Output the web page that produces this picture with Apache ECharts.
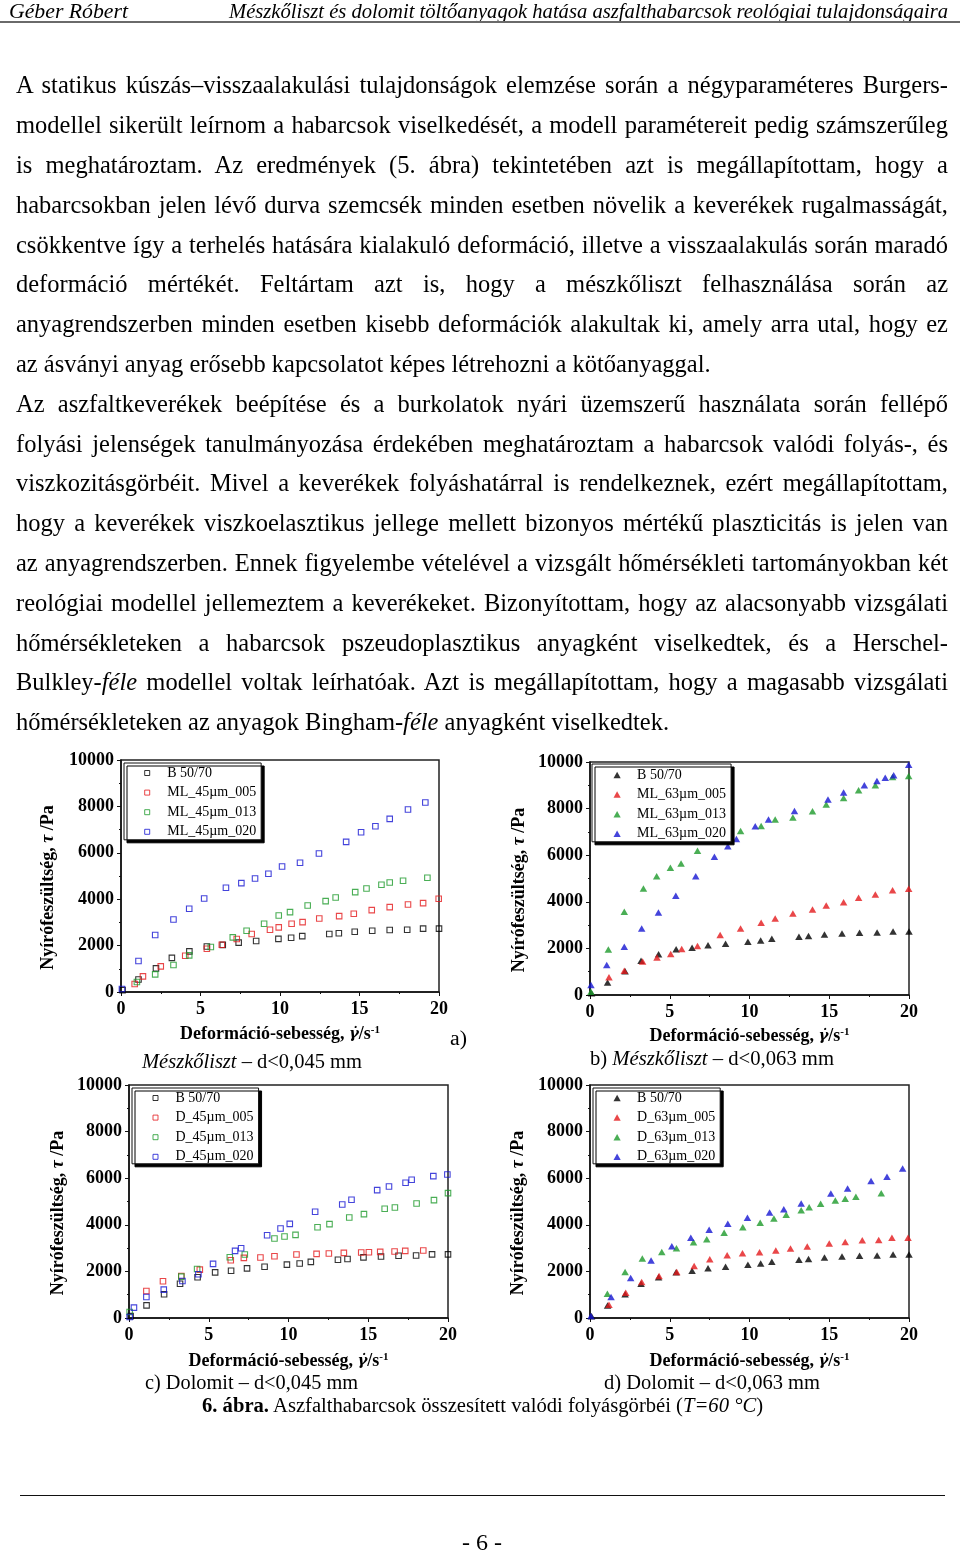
<!DOCTYPE html>
<html>
<head>
<meta charset="utf-8">
<script src="https://cdn.jsdelivr.net/npm/echarts@6/dist/echarts.min.js"></script>
<style>
html,body{margin:0;padding:0;background:#fff;}
#page{position:relative;width:960px;height:1553px;overflow:hidden;font-family:"Liberation Serif","Times New Roman",serif;color:#000;background:#fff;}
#chart{position:absolute;left:0;top:0;width:960px;height:1553px;}
.t{position:absolute;white-space:nowrap;transform-origin:0 50%;}
.j{position:absolute;left:16px;width:932px;font-size:24.5px;line-height:40px;text-align:justify;text-align-last:justify;}
.j.l{text-align:left;text-align-last:left;}
.rule{position:absolute;}
</style>
</head>
<body>
<div id="page">
  <div id="chart"></div>
</div>
<script>
// ---------------- DATA ----------------
// common binder reference (B 50/70)
const bX = [0.1, 1.1, 2.2, 3.2, 4.3, 5.4, 6.4, 7.4, 8.5, 9.9, 10.7, 11.4, 13.1, 13.7, 14.7, 15.8, 16.9, 18.0, 19.0, 20.0];
const bY = [80, 540, 1020, 1470, 1750, 1960, 2030, 2130, 2200, 2290, 2340, 2410, 2500, 2530, 2600, 2640, 2670, 2680, 2730, 2730];

// a) Mészkőliszt d<0,045 mm
const ml45_005X = [0.86, 1.38, 2.5, 4.04, 5.4, 6.34, 7.28, 8.22, 9.37, 9.92, 10.73, 11.42, 12.47, 13.72, 14.64, 15.77, 16.9, 18.05, 19.0, 19.98];
const ml45_005Y = [344, 674, 1105, 1564, 1866, 2038, 2282, 2497, 2683, 2784, 2942, 3013, 3171, 3272, 3372, 3530, 3659, 3774, 3831, 4018];
const ml45_013X = [1.0, 2.15, 3.3, 4.29, 5.65, 7.03, 7.9, 9.0, 9.92, 10.63, 11.74, 12.87, 13.5, 14.73, 15.44, 16.38, 16.9, 17.74, 19.27];
const ml45_013Y = [430, 760, 1162, 1580, 1937, 2353, 2640, 2942, 3300, 3444, 3731, 3917, 4075, 4305, 4463, 4620, 4721, 4793, 4922];
const ml45_020X = [0.06, 1.1, 2.15, 3.3, 4.29, 5.23, 6.6, 7.57, 8.43, 9.27, 10.13, 11.26, 12.45, 14.16, 15.1, 16.0, 16.9, 18.05, 19.14];
const ml45_020Y = [130, 1335, 2454, 3128, 3588, 4032, 4492, 4692, 4893, 5094, 5410, 5568, 5970, 6472, 6888, 7146, 7462, 7864, 8165];

// b) Mészkőliszt d<0,063 mm
const ml63_005X = [1.19, 2.15, 3.3, 4.2, 5.06, 5.75, 6.74, 8.16, 9.44, 10.73, 11.61, 12.72, 13.95, 14.81, 15.9, 16.84, 17.89, 18.97, 19.98];
const ml63_005Y = [757, 1043, 1443, 1614, 1757, 1971, 2100, 2571, 2857, 3100, 3286, 3500, 3671, 3843, 3986, 4171, 4314, 4500, 4557];
const ml63_013X = [0.06, 1.15, 2.15, 3.35, 4.18, 5.04, 5.71, 6.74, 9.44, 10.73, 11.61, 12.72, 13.95, 14.81, 15.9, 16.84, 17.89, 18.97, 19.98];
const ml63_013Y = [143, 1957, 3571, 4571, 5100, 5457, 5643, 6186, 7043, 7257, 7529, 7614, 7886, 8171, 8457, 8786, 9000, 9357, 9400];
const ml63_020X = [0.06, 1.05, 2.15, 3.24, 4.29, 5.38, 6.63, 7.8, 8.64, 9.18, 10.36, 11.19, 12.82, 14.92, 15.9, 17.2, 17.99, 18.51, 19.04, 19.98];
const ml63_020Y = [430, 1286, 2071, 2857, 3543, 4257, 5100, 5929, 6386, 6700, 7243, 7529, 7900, 8386, 8686, 9000, 9186, 9329, 9429, 9886];

// c) Dolomit d<0,045 mm
const d45_005X = [1.09, 2.13, 3.28, 4.44, 6.38, 7.2, 8.24, 9.12, 10.5, 11.76, 12.53, 13.47, 14.56, 15.04, 15.75, 16.65, 17.32, 18.45];
const d45_005Y = [1160, 1576, 1805, 2078, 2479, 2579, 2594, 2651, 2723, 2751, 2766, 2794, 2808, 2823, 2837, 2852, 2880, 2894];
const d45_013X = [0.04, 3.28, 4.27, 6.32, 7.26, 9.12, 9.75, 10.44, 11.82, 12.57, 13.81, 14.73, 16.03, 16.67, 18.03, 19.12, 20.0];
const d45_013Y = [258, 1777, 2106, 2608, 2723, 3410, 3496, 3568, 3898, 4027, 4313, 4457, 4686, 4743, 4915, 5058, 5359];
const d45_020X = [0.04, 0.31, 1.09, 2.18, 3.35, 4.35, 5.27, 6.65, 7.03, 8.66, 9.5, 10.08, 11.67, 13.37, 13.95, 15.56, 16.3, 17.34, 17.72, 19.08, 19.96];
const d45_020Y = [43, 444, 903, 1218, 1590, 1877, 2321, 2880, 2995, 3554, 3840, 4041, 4557, 4872, 5073, 5488, 5646, 5804, 5932, 6090, 6162];

// d) Dolomit d<0,063 mm
const d63_005X = [1.19, 2.24, 3.24, 4.33, 5.44, 6.53, 7.51, 8.6, 9.56, 10.63, 11.65, 12.57, 13.62, 15.0, 16.0, 17.07, 18.1, 18.93, 19.94];
const d63_005Y = [573, 1089, 1548, 1806, 1978, 2235, 2522, 2694, 2780, 2823, 2895, 2981, 3067, 3196, 3267, 3339, 3353, 3439, 3439];
const d63_013X = [1.09, 2.2, 3.28, 4.5, 5.42, 6.49, 7.32, 8.41, 9.58, 10.67, 11.53, 12.3, 13.24, 13.74, 14.46, 15.38, 16.0, 16.67, 18.26];
const d63_013Y = [1046, 1978, 2551, 2837, 2995, 3253, 3382, 3654, 3898, 4084, 4270, 4428, 4629, 4758, 4901, 5044, 5116, 5202, 5359];
const d63_020X = [0.06, 1.32, 2.55, 3.83, 5.13, 6.32, 7.47, 8.64, 9.87, 11.26, 12.15, 13.24, 15.1, 16.15, 17.62, 18.62, 19.6];
const d63_020Y = [86, 903, 1720, 2465, 3081, 3439, 3783, 4041, 4299, 4528, 4672, 4915, 5345, 5560, 5875, 6061, 6420];

// series names per panel
const namesA = ['B 50/70', 'ML_45µm_005', 'ML_45µm_013', 'ML_45µm_020'];
const namesB = ['B 50/70', 'ML_63µm_005', 'ML_63µm_013', 'ML_63µm_020'];
const namesC = ['B 50/70', 'D_45µm_005', 'D_45µm_013', 'D_45µm_020'];
const namesD = ['B 50/70', 'D_63µm_005', 'D_63µm_013', 'D_63µm_020'];

// axis ranges / ticks
const xAxisRange = { min: 0, max: 20, interval: 5 };
const yAxisRange = { min: 0, max: 10000, interval: 2000 };

// ---------------- TEXT ----------------
const bodyLines = [
  'A statikus kúszás–visszaalakulási tulajdonságok elemzése során a négyparaméteres Burgers-',
  'modellel sikerült leírnom a habarcsok viselkedését, a modell paramétereit pedig számszerűleg',
  'is meghatároztam. Az eredmények (5. ábra) tekintetében azt is megállapítottam, hogy a',
  'habarcsokban jelen lévő durva szemcsék minden esetben növelik a keverékek rugalmasságát,',
  'csökkentve így a terhelés hatására kialakuló deformáció, illetve a visszaalakulás során maradó',
  'deformáció mértékét. Feltártam azt is, hogy a mészkőliszt felhasználása során az',
  'anyagrendszerben minden esetben kisebb deformációk alakultak ki, amely arra utal, hogy ez',
  '|az ásványi anyag erősebb kapcsolatot képes létrehozni a kötőanyaggal.',
  'Az aszfaltkeverékek beépítése és a burkolatok nyári üzemszerű használata során fellépő',
  'folyási jelenségek tanulmányozása érdekében meghatároztam a habarcsok valódi folyás-, és',
  'viszkozitásgörbéit. Mivel a keverékek folyáshatárral is rendelkeznek, ezért megállapítottam,',
  'hogy a keverékek viszkoelasztikus jellege mellett bizonyos mértékű plaszticitás is jelen van',
  'az anyagrendszerben. Ennek figyelembe vételével a vizsgált hőmérsékleti tartományokban két',
  'reológiai modellel jellemeztem a keverékeket. Bizonyítottam, hogy az alacsonyabb vizsgálati',
  'hőmérsékleteken a habarcsok pszeudoplasztikus anyagként viselkedtek, és a Herschel-',
  'Bulkley-<i>féle</i> modellel voltak leírhatóak. Azt is megállapítottam, hogy a magasabb vizsgálati',
  '|hőmérsékleteken az anyagok Bingham-<i>féle</i> anyagként viselkedtek.'
];

const page = document.getElementById('page');

function rule(left, top, w, h, color) {
  const r = document.createElement('div');
  r.className = 'rule';
  r.style.cssText = 'left:' + left + 'px;top:' + top + 'px;width:' + w + 'px;height:' + h + 'px;background:' + color + ';';
  page.appendChild(r);
}
function place(html, left, right, cy, fs) {
  const d = document.createElement('div');
  d.className = 't';
  d.style.fontSize = fs + 'px';
  d.style.lineHeight = (fs * 1.2) + 'px';
  d.style.left = left + 'px';
  d.style.top = (cy - fs * 0.6) + 'px';
  d.innerHTML = html;
  page.appendChild(d);
  const w = d.getBoundingClientRect().width;
  if (right !== null && w > 0) d.style.transform = 'scaleX(' + ((right - left) / w) + ')';
  return d;
}

place('<i>Géber Róbert</i>', 9, 128, 11, 20);
place('<i>Mészkőliszt és dolomit töltőanyagok hatása aszfalthabarcsok reológiai tulajdonságaira</i>', 229, 948, 11, 20);
rule(0, 21, 960, 2, '#6a6a6a');

bodyLines.forEach(function (line, i) {
  const d = document.createElement('div');
  let txt = line;
  d.className = 'j';
  if (txt.charAt(0) === '|') { d.className = 'j l'; txt = txt.slice(1); }
  d.innerHTML = txt;
  d.style.top = (85 + i * 39.81 - 19.7) + 'px';
  page.appendChild(d);
  let fs = 24.5;
  while (d.offsetHeight > 45 && fs > 18) { fs -= 0.1; d.style.fontSize = fs + 'px'; }
});

place('a)', 450, 467, 1038, 20);
place('<i>Mészkőliszt</i> – d&lt;0,045 mm', 142, 362, 1061, 20.5);
place('b) <i>Mészkőliszt</i> – d&lt;0,063 mm', 590, 834, 1058, 20.5);
place('c) Dolomit – d&lt;0,045 mm', 145, 358, 1382, 20.5);
place('d) Dolomit – d&lt;0,063 mm', 604, 820, 1382, 20.5);
place('<b>6. ábra.</b> Aszfalthabarcsok összesített valódi folyásgörbéi (<i>T=60 °C</i>)', 202, 763, 1405, 20.5);
rule(20, 1495, 925, 1, '#111');
place('- 6 -', 462, 502, 1542, 24);

// ---------------- CHART ----------------
const colors = ['#000000', '#e3191c', '#1d9a2a', '#1515d2'];
const FONT = 'Liberation Serif';
const ICON_SQUARE = 'path://M0,0L10,0L10,10L0,10Z';
const ICON_TRIANGLE = 'path://M0,9L5,0L10,9Z';

const panels = [
  { grid: { left: 121, top: 760, width: 318, height: 232 }, hollow: true, names: namesA, suffix: '',
    xs: [bX, ml45_005X, ml45_013X, ml45_020X], ys: [bY, ml45_005Y, ml45_013Y, ml45_020Y],
    legend: { left: 124, top: 763, padding: [3, 5, 1, 20.2] }, yGap: 62.5, xGap: 32.5 },
  { grid: { left: 590, top: 762, width: 319, height: 233 }, hollow: false, names: namesB, suffix: '\u200b',
    xs: [bX, ml63_005X, ml63_013X, ml63_020X], ys: [bY, ml63_005Y, ml63_013Y, ml63_020Y],
    legend: { left: 592, top: 764, padding: [4, 5, 1, 21.5] }, yGap: 60.5, xGap: 31.5 },
  { grid: { left: 129, top: 1085, width: 319, height: 233 }, hollow: true, names: namesC, suffix: '\u200b\u200b',
    xs: [bX, d45_005X, d45_013X, d45_020X], ys: [bY, d45_005Y, d45_013Y, d45_020Y],
    legend: { left: 132, top: 1088, padding: [3, 5, 0, 20.5] }, yGap: 60.5, xGap: 33.5 },
  { grid: { left: 590, top: 1085, width: 319, height: 233 }, hollow: false, names: namesD, suffix: '\u200b\u200b\u200b',
    xs: [bX, d63_005X, d63_013X, d63_020X], ys: [bY, d63_005Y, d63_013Y, d63_020Y],
    legend: { left: 593, top: 1088, padding: [3, 5, 0, 20.5] }, yGap: 61.5, xGap: 33.5 }
];

const nameRich = {
  n: { fontFamily: FONT, fontWeight: 'bold', fontSize: 18, lineHeight: 20, color: '#000' },
  g: { fontFamily: 'DejaVu Serif', fontWeight: 'bold', fontStyle: 'italic', fontSize: 15, lineHeight: 20, color: '#000' },
  t: { fontFamily: FONT, fontWeight: 'bold', fontStyle: 'italic', fontSize: 18, lineHeight: 20, color: '#000' },
  s: { fontFamily: FONT, fontWeight: 'bold', fontSize: 11, lineHeight: 11, verticalAlign: 'top', color: '#000' }
};

const grids = [], xAxes = [], yAxes = [], series = [], legends = [];
panels.forEach(function (p, gi) {
  grids.push(Object.assign({ show: true, borderColor: '#222', borderWidth: 1.5, backgroundColor: '#fff', containLabel: false }, p.grid));
  const common = {
    gridIndex: gi, type: 'value',
    axisLine: { show: true, onZero: false, lineStyle: { color: '#111', width: 1.5 } },
    axisTick: { show: true, inside: false, length: 4, lineStyle: { color: '#111', width: 1 } },
    minorTick: { show: true, splitNumber: 2, length: 2, lineStyle: { color: '#111', width: 1 } },
    splitLine: { show: false }, minorSplitLine: { show: false },
    nameLocation: 'middle', nameMoveOverlap: false
  };
  xAxes.push(Object.assign({}, common, xAxisRange, {
    position: 'bottom',
    axisLabel: { show: true, margin: 8, fontFamily: FONT, fontWeight: 'bold', fontSize: 18, color: '#000', showMinLabel: true, showMaxLabel: true,
      formatter: function (v) { return String(v); } },
    name: '{n|Deformáció-sebesség, }{g|γ̇}{n|/s}{s|-1}',
    nameGap: p.xGap,
    nameTextStyle: { rich: nameRich }
  }));
  yAxes.push(Object.assign({}, common, yAxisRange, {
    position: 'left',
    axisLabel: { show: true, margin: 7, fontFamily: FONT, fontWeight: 'bold', fontSize: 18, color: '#000', showMinLabel: true, showMaxLabel: true,
      formatter: function (v) { return String(v); } },
    name: '{n|Nyírófeszültség, }{t|τ}{n| /Pa}',
    nameRotate: 90,
    nameGap: p.yGap,
    nameTextStyle: { padding: [0, 23, 0, 0], rich: nameRich }
  }));
  const legendData = [];
  p.names.forEach(function (nm, si) {
    const fullName = nm + p.suffix;
    legendData.push(fullName);
    const c = colors[si];
    series.push({
      type: 'scatter', name: fullName, xAxisIndex: gi, yAxisIndex: gi,
      symbol: p.hollow ? 'rect' : 'triangle',
      symbolSize: p.hollow ? 5.5 : [7.5, 6.5],
      itemStyle: p.hollow ? { color: 'rgba(255,255,255,0)', borderColor: c, borderWidth: 1.1 } : { color: c, borderWidth: 0 },
      emphasis: { disabled: true },
      silent: true,
      z: 2 + si,
      data: p.xs[si].map(function (x, k) { return [x, p.ys[si][k]]; })
    });
  });
  legends.push({
    data: legendData, orient: 'vertical', left: p.legend.left, top: p.legend.top, padding: p.legend.padding,
    itemGap: 5.6, itemWidth: 30, itemHeight: p.hollow ? 5 : 6.5,
    icon: p.hollow ? ICON_SQUARE : ICON_TRIANGLE,
    symbolKeepAspect: true,
    backgroundColor: '#fff', borderColor: '#111', borderWidth: 1, borderRadius: 0,
    shadowColor: '#000', shadowBlur: 0, shadowOffsetX: 3, shadowOffsetY: 3,
    selectedMode: false,
    itemStyle: p.hollow ? { borderWidth: 1 } : { borderWidth: 0 },
    textStyle: { fontFamily: FONT, fontSize: 14, lineHeight: 14, color: '#000' },
    formatter: function (name) { return name.replace(/\u200b/g, ''); },
    z: 10
  });
});

const chart = echarts.init(document.getElementById('chart'), null, { renderer: 'canvas' });
chart.setOption({
  animation: false,
  backgroundColor: 'transparent',
  grid: grids, xAxis: xAxes, yAxis: yAxes, legend: legends, series: series
});
</script>
</body>
</html>
